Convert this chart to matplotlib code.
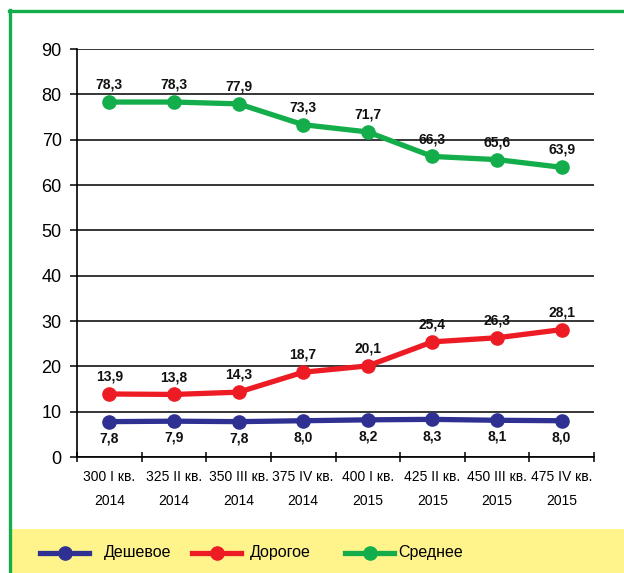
import matplotlib
matplotlib.use("Agg")
import matplotlib.pyplot as plt
import numpy as np
from matplotlib.lines import Line2D
from matplotlib.patches import Rectangle

categories = ["300 I кв.\n2014", "325 II кв.\n2014", "350 III кв.\n2014", "375 IV кв.\n2014",
              "400 I кв.\n2015", "425 II кв.\n2015", "450 III кв.\n2015", "475 IV кв.\n2015"]
series_names = ["Дешевое", "Дорогое", "Среднее"]
cheap = [7.8, 7.9, 7.8, 8.0, 8.2, 8.3, 8.1, 8.0]
expensive = [13.9, 13.8, 14.3, 18.7, 20.1, 25.4, 26.3, 28.1]
medium = [78.3, 78.3, 77.9, 73.3, 71.7, 66.3, 65.6, 63.9]
y_ticks = [0, 10, 20, 30, 40, 50, 60, 70, 80, 90]

colors = ["#2E3192", "#ED1C24", "#13AE4B"]
FONT = ["Liberation Sans", "DejaVu Sans"]

W, H = 624, 573
fig = plt.figure(figsize=(W / 100, H / 100), dpi=100)

# yellow legend band and green frame
fig.add_artist(Rectangle((11 / W, 0), 1, 44 / H, transform=fig.transFigure,
                         facecolor="#FFF48C", edgecolor="none", zorder=0))
fig.add_artist(Line2D([9 / W, 1], [1 - 10.5 / H, 1 - 10.5 / H], transform=fig.transFigure,
                      color=colors[2], lw=2.4))
fig.add_artist(Line2D([10 / W, 10 / W], [0, 1 - 9.5 / H], transform=fig.transFigure,
                      color=colors[2], lw=2.4))

ax = fig.add_axes([77 / W, 1 - 457 / H, (594 - 77) / W, (457 - 49) / H])
ax.set_facecolor("none")
x = np.arange(len(categories))

for data, c, pos in [(cheap, colors[0], "below"), (expensive, colors[1], "above"),
                     (medium, colors[2], "above")]:
    ax.plot(x, data, color=c, lw=3.8, marker="o", markersize=9.5, solid_capstyle="round",
            zorder=3)
    for xi, v in zip(x, data):
        off = 12.5 if pos == "above" else -12
        ax.annotate(f"{v:.1f}".replace(".", ","), (xi, v), xytext=(0, off),
                    textcoords="offset points", ha="center", va="center",
                    fontsize=10, fontweight="bold", family=FONT, color="#111111")

ax.set_xlim(-0.5, len(categories) - 0.5)
ax.set_ylim(0, 90)
ax.set_yticks(y_ticks)
ax.set_yticklabels([str(t) for t in y_ticks], family=FONT, fontsize=13)
ax.yaxis.grid(True, color="black", lw=1.1)
ax.set_axisbelow(True)
ax.set_xticks(np.arange(-0.5, len(categories)), labels=[""] * (len(categories) + 1))
ax.set_xticks(x, labels=categories, minor=True)
for lab in ax.get_xticklabels(minor=True):
    lab.set_family(FONT)
    lab.set_fontsize(10)
    lab.set_linespacing(1.85)
ax.tick_params(axis="x", which="major", direction="inout", length=7, width=1.1)
ax.tick_params(axis="x", which="minor", length=0, pad=9.5)
ax.tick_params(axis="y", direction="out", length=5, width=1.1, pad=6)
for s in ["top", "right"]:
    ax.spines[s].set_visible(False)
for s in ["left", "bottom"]:
    ax.spines[s].set_linewidth(1.2)

# legend
ly = 1 - 553 / H
starts = [40, 192, 345]
text_x = [104, 250, 398]
for name, c, sx, tx in zip(series_names, colors, starts, text_x):
    fig.add_artist(Line2D([sx / W, (sx + 49) / W], [ly, ly], transform=fig.transFigure,
                          color=c, lw=3.8))
    fig.add_artist(Line2D([(sx + 24.5) / W], [ly], transform=fig.transFigure,
                          color=c, marker="o", markersize=9.5, lw=0))
    fig.text(tx / W, ly, name, ha="left", va="center", family=FONT, fontsize=11.5)

fig.savefig("out.png", dpi=100)
